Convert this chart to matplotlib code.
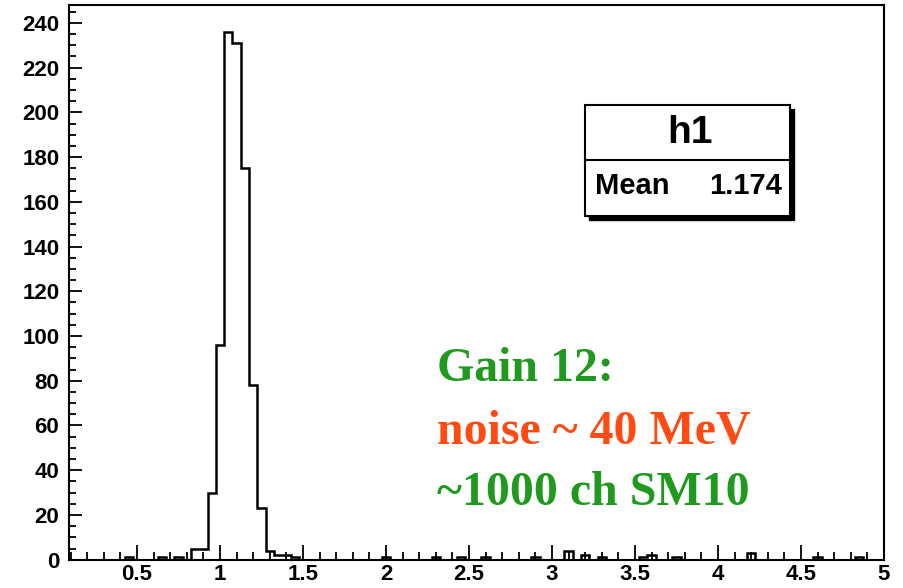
import numpy as np
import matplotlib
matplotlib.use('Agg')
from matplotlib import pyplot as plt
from matplotlib.patches import Rectangle
from matplotlib.ticker import MultipleLocator

# histogram contents: bin centres (width 0.05) and counts
bin_centers = [0.45, 0.65, 0.75, 0.85, 0.9, 0.95, 1.0, 1.05, 1.1, 1.15, 1.2, 1.25,
               1.3, 1.35, 1.4, 1.45, 2.0, 2.3, 2.45, 2.6, 2.9, 3.1, 3.2, 3.3,
               3.55, 3.6, 3.75, 4.2, 4.6, 4.85]
bin_counts = [1, 1, 1, 5, 5, 30, 96, 236, 231, 175, 78, 23,
              4, 2, 2, 1, 1, 1, 1, 1, 1, 4, 2, 1,
              1, 2, 1, 3, 1, 1]

x_ticks = [0.5, 1, 1.5, 2, 2.5, 3, 3.5, 4, 4.5, 5]
x_tick_labels = ['0.5', '1', '1.5', '2', '2.5', '3', '3.5', '4', '4.5', '5']
y_ticks = [0, 20, 40, 60, 80, 100, 120, 140, 160, 180, 200, 220, 240]

hist_name = 'h1'
mean_value = '1.174'
notes = ['Gain 12:', 'noise ~ 40 MeV', '~1000 ch SM10']
note_colors = ['#1f9a1f', '#ff4a12', '#1f9a1f']

W, H = 904, 588
fig = plt.figure(figsize=(W / 100, H / 100), dpi=100, facecolor='white')
ax = fig.add_axes([69 / W, 1 - 559.7 / H, (884 - 69) / W, (559.7 - 5) / H])

edges = np.arange(0.075, 5.03, 0.05)
ax.hist(bin_centers, bins=edges, weights=bin_counts, histtype='step',
        color='black', linewidth=1.8)

ax.set_xlim(0.09, 5.0)
ax.set_ylim(0, 248)

# ROOT-like ticks: inward, only bottom and left
ax.set_xticks(x_ticks)
ax.set_xticklabels(x_tick_labels)
ax.set_yticks(y_ticks)
ax.xaxis.set_minor_locator(MultipleLocator(0.1))
ax.yaxis.set_minor_locator(MultipleLocator(5))
ax.tick_params(axis='x', which='major', direction='in', length=11, width=1.3, pad=3)
ax.tick_params(axis='x', which='minor', direction='in', length=5.5, width=1.3)
ax.tick_params(axis='y', which='major', direction='in', length=9, width=1.3, pad=7)
ax.tick_params(axis='y', which='minor', direction='in', length=5, width=1.3)
for lab in ax.get_xticklabels() + ax.get_yticklabels():
    lab.set_fontfamily('Liberation Sans')
    lab.set_fontweight('bold')
    lab.set_fontsize(16)
for sp in ax.spines.values():
    sp.set_linewidth(1.5)

# stats box with shadow
bx0, bx1, by0, by1 = 585, 790, 105, 216
shadow = Rectangle(((bx0 + 4) / W, 1 - (by1 + 4) / H), (bx1 - bx0) / W, (by1 - by0) / H,
                   transform=fig.transFigure, facecolor='black', edgecolor='black', zorder=5)
box = Rectangle((bx0 / W, 1 - by1 / H), (bx1 - bx0) / W, (by1 - by0) / H,
                transform=fig.transFigure, facecolor='white', edgecolor='black',
                linewidth=1.5, zorder=6)
fig.patches.extend([shadow, box])
fig.add_artist(plt.Line2D([bx0 / W, bx1 / W], [1 - 160 / H, 1 - 160 / H],
                          color='black', linewidth=1.5, zorder=7))
fig.text(690 / W, 1 - 133 / H, hist_name, ha='center', va='center', fontsize=28,
         fontweight='bold', fontfamily='Liberation Sans', zorder=8)
fig.text(595 / W, 1 - 186 / H, 'Mean', ha='left', va='center', fontsize=21,
         fontweight='bold', fontfamily='Liberation Sans', zorder=8)
fig.text(782 / W, 1 - 186 / H, mean_value, ha='right', va='center', fontsize=21,
         fontweight='bold', fontfamily='Liberation Sans', zorder=8)

# annotation text
for txt, col, base in zip(notes, note_colors, [381, 443, 505]):
    fig.text(437 / W, 1 - base / H, txt, ha='left', va='baseline', color=col,
             fontsize=34.5, fontweight='bold', fontfamily='Liberation Serif')

fig.savefig('out.png', dpi=100, facecolor='white')
